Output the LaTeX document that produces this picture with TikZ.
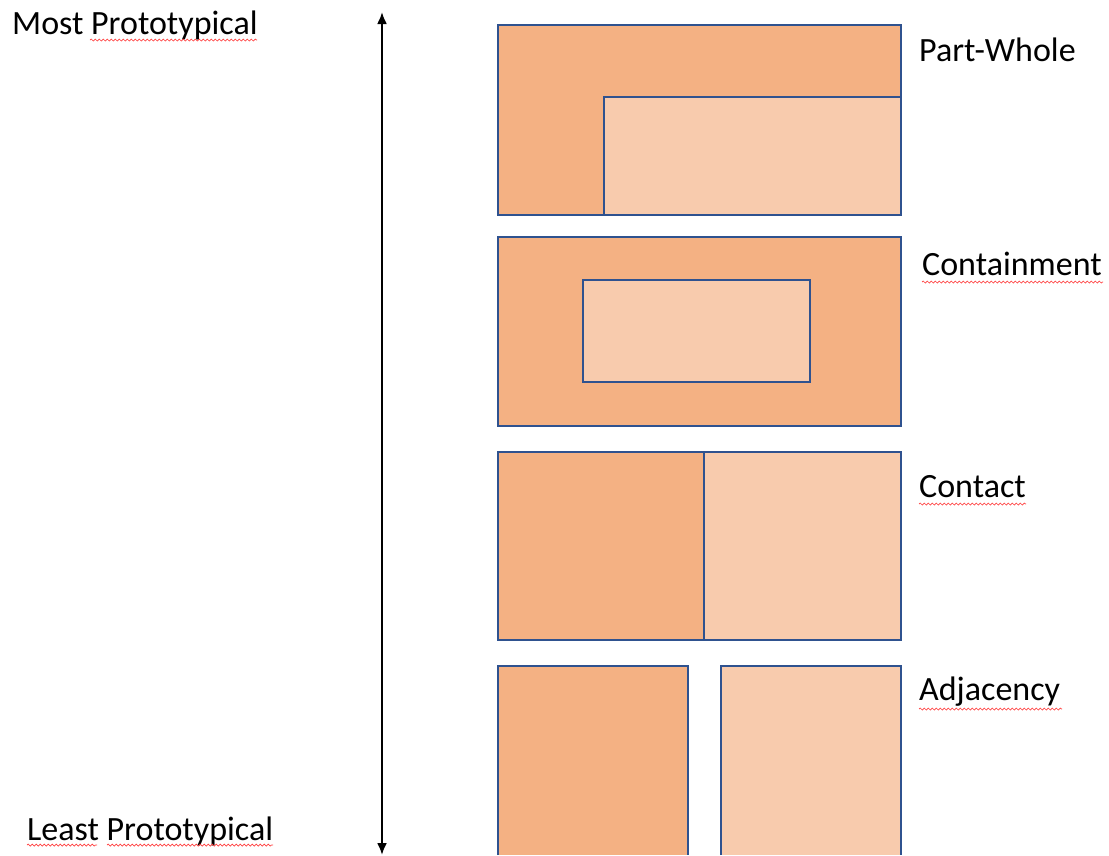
\documentclass[tikz,border=0pt]{standalone}
\usepackage{fontspec}
\setmainfont{Carlito}
\usepackage{tikz}
\usetikzlibrary{arrows.meta,decorations.pathmorphing}
\definecolor{whole}{HTML}{F4B183}
\definecolor{part}{HTML}{F8CBAD}
\definecolor{edge}{HTML}{2F528F}

\begin{document}
\begin{tikzpicture}[x=1pt,y=-1pt,>={Latex[length=12pt,width=10pt]},
  lbl/.style={anchor=base west,inner sep=0pt,font=\fontsize{34}{40}\selectfont},
  outerbox/.style={fill=whole,draw=edge,line width=1.2pt},
  innerbox/.style={fill=part,draw=edge,line width=1.2pt},
  squiggle/.style={draw=red!75,line width=0.7pt,decorate,decoration={snake,amplitude=1pt,segment length=4pt}}]
\useasboundingbox (0,0) rectangle (1109,855);
% scale
\node[lbl] (most) at (12,34) {Most Prototypical};
\node[lbl] (least) at (27,840) {Least Prototypical};
\coordinate (top) at (382,12);
\coordinate (bot) at (382,855);
\draw[<->,line width=2.2pt] (top) -- (bot);
% part-whole
\draw[outerbox] (498,25) rectangle (901,215);
\draw[innerbox] (604,215) |- (901,97) -- (901,215) -- cycle;
\node[lbl] (pw) at (919,61) {Part-Whole};
% containment
\draw[outerbox] (498,237) rectangle (901,426);
\draw[innerbox] (583,280) rectangle (810,382);
\node[lbl] (cont) at (922,275) {Containment};
% contact
\draw[outerbox] (498,452) rectangle (704,640);
\draw[innerbox] (704,452) rectangle (901,640);
\node[lbl] (contact) at (919,497) {Contact};
% adjacency
\fill[whole] (498,666) rectangle (688,855);
\draw[edge,line width=1.2pt] (498,855) |- (688,666) -- (688,855);
\fill[part] (721,666) rectangle (901,855);
\draw[edge,line width=1.2pt] (721,855) |- (901,666) -- (901,855);
\node[lbl] (adj) at (919,700) {Adjacency};
% spelling marks
\draw[squiggle] (90,40) -- (257,40);
\draw[squiggle] (27,845) -- (97,845);
\draw[squiggle] (107,845) -- (273,845);
\draw[squiggle] (922,282) -- (1103,282);
\draw[squiggle] (919,504) -- (1026,504);
\draw[squiggle] (919,709) -- (1062,709);
\end{tikzpicture}
\end{document}
